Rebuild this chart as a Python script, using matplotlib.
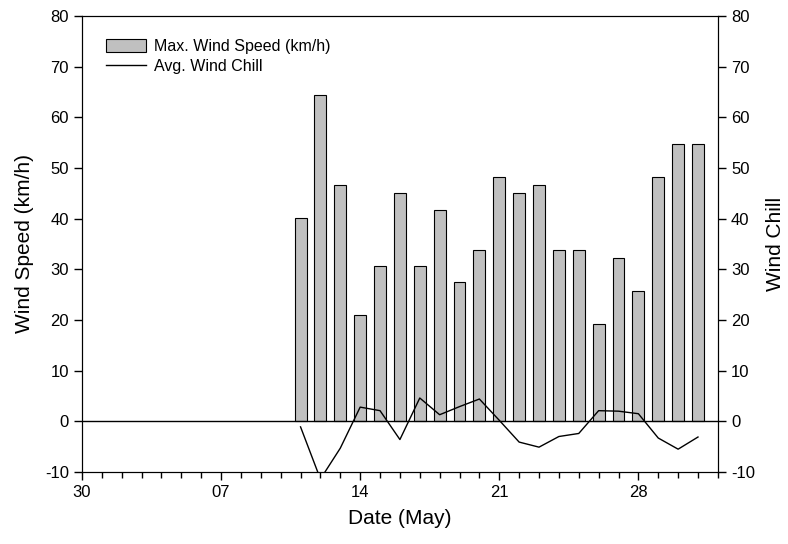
import matplotlib.pyplot as plt
import matplotlib.dates as mdates
import numpy as np
import pandas as pd

plt.rcParams['font.family'] = ['Liberation Sans', 'DejaVu Sans']
plt.rcParams['axes.unicode_minus'] = False

dates = pd.date_range('2024-05-11', '2024-05-31', freq='D')
max_wind = [40.2, 64.4, 46.7, 20.9, 30.6, 45.1, 30.6, 41.8, 27.4, 33.8, 48.3,
            45.1, 46.7, 33.8, 33.8, 19.3, 32.2, 25.7, 48.3, 54.7, 54.7]
wind_chill = [-1.1, -11.4, -5.3, 2.8, 2.1, -3.6, 4.6, 1.3, 2.9, 4.4, 0.2,
              -4.1, -5.1, -3.0, -2.4, 2.1, 2.0, 1.5, -3.3, -5.5, -3.1]
xtick_dates = pd.to_datetime(['2024-04-30', '2024-05-07', '2024-05-14',
                              '2024-05-21', '2024-05-28'])
yticks = [-10, 0, 10, 20, 30, 40, 50, 60, 70, 80]

fig = plt.figure(figsize=(7.88, 5.44), dpi=100)
ax = fig.add_axes([0.104, 0.1324, 0.807, 0.8382])

ax.bar(dates, max_wind, width=0.6, color='#c0c0c0', edgecolor='black',
       linewidth=0.8, label='Max. Wind Speed (km/h)', zorder=2)
ax.axhline(0, color='black', linewidth=1.0, zorder=3)

ax.set_xlim(pd.Timestamp('2024-04-30'), pd.Timestamp('2024-06-01'))
ax.set_ylim(-10, 80)
ax.set_yticks(yticks)
ax.set_xticks(xtick_dates)
ax.xaxis.set_major_formatter(mdates.DateFormatter('%d'))
ax.xaxis.set_minor_locator(mdates.DayLocator())
ax.tick_params(axis='both', which='major', direction='out', length=6, width=1,
               labelsize=12)
ax.tick_params(axis='x', which='minor', direction='out', length=4, width=1)
ax.set_xlabel('Date (May)', fontsize=15, labelpad=6)
ax.set_ylabel('Wind Speed (km/h)', fontsize=15, labelpad=8)

ax2 = ax.twinx()
ax2.plot(dates, wind_chill, color='black', linewidth=1.0,
         label='Avg. Wind Chill')
ax2.set_ylim(-10, 80)
ax2.set_yticks(yticks)
ax2.tick_params(axis='y', direction='out', length=6, width=1, labelsize=12)
ax2.set_ylabel('Wind Chill', fontsize=15, labelpad=8)

h1, l1 = ax.get_legend_handles_labels()
h2, l2 = ax2.get_legend_handles_labels()
ax.legend(h1 + h2, l1 + l2, loc='upper left', frameon=False, fontsize=11.5,
          bbox_to_anchor=(0.02, 0.975), handlelength=2.5, handleheight=0.9,
          handletextpad=0.5, labelspacing=0.35, borderaxespad=0.3)

fig.savefig('out.png', dpi=100)
